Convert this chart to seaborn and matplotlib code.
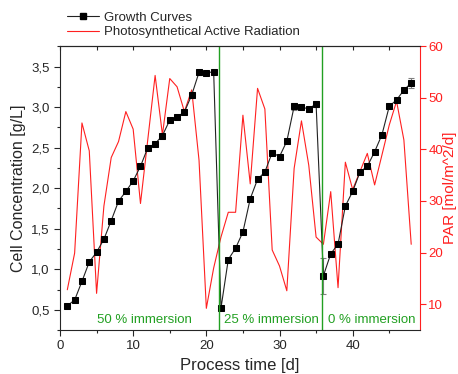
"""Growth curves and PAR over process time, three immersion phases."""

import matplotlib.pyplot as plt
from matplotlib.lines import Line2D
from matplotlib.ticker import FuncFormatter, MultipleLocator
import seaborn as sns


# growth curve (cell concentration, g/L)
growth_days = [1, 2, 3, 4, 5, 6, 7, 8, 9, 10, 11, 12, 13, 14, 15, 16, 17, 18, 19, 20, 21,
               22, 23, 24, 25, 26, 27, 28, 29, 30, 31, 32, 33, 34, 35,
               36, 37, 38, 39, 40, 41, 42, 43, 44, 45, 46, 47, 48]
growth_conc = [0.55, 0.62, 0.85, 1.09, 1.21, 1.37, 1.60, 1.84, 1.96, 2.09, 2.27, 2.50, 2.55, 2.65,
               2.84, 2.88, 2.94, 3.15, 3.43, 3.42, 3.44,
               0.52, 1.12, 1.26, 1.46, 1.87, 2.11, 2.20, 2.44, 2.39, 2.58, 3.01, 3.00, 2.98, 3.04,
               0.92, 1.19, 1.31, 1.78, 1.96, 2.20, 2.27, 2.45, 2.66, 3.01, 3.09, 3.21, 3.30]
growth_err = [0.01, 0.01, 0.01, 0.01, 0.01, 0.01, 0.01, 0.01, 0.01, 0.01, 0.01, 0.01, 0.01, 0.01,
              0.01, 0.01, 0.02, 0.04, 0.03, 0.01, 0.02,
              0.01, 0.01, 0.01, 0.01, 0.01, 0.01, 0.01, 0.03, 0.01, 0.01, 0.04, 0.01, 0.01, 0.04,
              0.22, 0.01, 0.01, 0.01, 0.01, 0.01, 0.01, 0.01, 0.01, 0.01, 0.01, 0.02, 0.06]

# photosynthetical active radiation (mol/m^2/d)
par_days = [1, 2, 3, 4, 5, 6, 7, 8, 9, 10, 11, 13, 14, 15, 16, 17, 18, 19, 20, 21, 22,
            23, 24, 25, 26, 27, 28, 29, 30, 31, 32, 33, 34, 35, 36,
            37, 38, 39, 40, 42, 43, 45, 46, 47, 48]
par_values = [12.8, 19.9, 45.1, 39.7, 12.1, 29.0, 38.4, 41.5, 47.3, 43.9, 29.5, 54.3, 42.8, 53.7,
              52.1, 47.3, 51.5, 37.9, 9.2, 17.0, 23.0,
              27.8, 27.8, 46.6, 33.3, 51.8, 47.8, 20.5, 17.4, 12.6, 36.3, 45.5, 36.9, 23.0, 21.6,
              31.8, 13.2, 37.5, 32.2, 39.2, 33.1, 44.7, 49.3, 41.8, 21.6]

phase_changes = [21.7, 35.8]
phase_labels = ["50 % immersion", "25 % immersion", "0 % immersion"]
phase_label_x = [11.5, 28.9, 42.6]

RED = "#ff2020"
GREEN = "#22a022"


def comma(value, _pos):
    return f"{value:.1f}".replace(".", ",")


def main() -> None:
    sns.set_style("ticks")
    plt.rcParams["font.family"] = ["Liberation Sans", "DejaVu Sans"]

    fig = plt.figure(figsize=(4.58, 3.74), dpi=100)
    ax = fig.add_axes([0.131, 0.1176, 0.786, 0.7594])
    ax2 = ax.twinx()

    # red PAR line on the right axis
    sns.lineplot(x=par_days, y=par_values, ax=ax2, color=RED, linewidth=0.8)
    ax2.set_ylim(5, 60)
    ax2.yaxis.set_major_locator(MultipleLocator(10))
    ax2.set_ylabel("PAR [mol/m^2/d]", color=RED, fontsize=11, labelpad=0)
    ax2.tick_params(axis="y", colors=RED, labelsize=9.5, direction="out", length=4, pad=2)
    ax2.spines["right"].set_color(RED)
    for side in ["left", "top", "bottom"]:
        ax2.spines[side].set_visible(False)

    # growth curve on the left axis, drawn above the PAR line
    ax.set_zorder(ax2.get_zorder() + 1)
    ax.patch.set_visible(False)
    ax.errorbar(growth_days, growth_conc, yerr=growth_err, fmt="none",
                ecolor="#808080", elinewidth=0.8, capsize=2.5, capthick=0.8)
    sns.lineplot(x=growth_days, y=growth_conc, ax=ax, color="#222222", linewidth=0.8,
                 marker="s", markersize=4.5, markerfacecolor="black", markeredgecolor="black")

    for x in phase_changes:
        ax.axvline(x, color=GREEN, linewidth=1.0)
    for x, label in zip(phase_label_x, phase_labels):
        ax.text(x, 0.30, label, color=GREEN, fontsize=9.5, ha="center", va="bottom")

    ax.set_xlim(0, 49.2)
    ax.set_ylim(0.25, 3.755)
    ax.xaxis.set_major_locator(MultipleLocator(10))
    ax.xaxis.set_minor_locator(MultipleLocator(5))
    ax.yaxis.set_major_locator(MultipleLocator(0.5))
    ax.yaxis.set_minor_locator(MultipleLocator(0.25))
    ax.yaxis.set_major_formatter(FuncFormatter(comma))
    ax.tick_params(axis="both", which="major", labelsize=9.5, length=4, width=0.8, direction="out")
    ax.tick_params(axis="both", which="minor", length=2.5, width=0.8, direction="out")
    ax.set_xlabel("Process time [d]", fontsize=12)
    ax.set_ylabel("Cell Concentration [g/L]", fontsize=11.5)
    for spine in ax.spines.values():
        spine.set_linewidth(0.8)
    ax.spines["right"].set_visible(False)

    top = ax.secondary_xaxis("top")
    top.xaxis.set_major_locator(MultipleLocator(5))
    top.tick_params(direction="in", length=3, width=0.8, labeltop=False)

    handles = [
        Line2D([], [], color="#222222", linewidth=0.8, marker="s", markersize=4.5,
               markerfacecolor="black", markeredgecolor="black"),
        Line2D([], [], color=RED, linewidth=0.8),
    ]
    fig.legend(handles, ["Growth Curves", "Photosynthetical Active Radiation"],
               loc="upper left", bbox_to_anchor=(0.12, 1.0), frameon=False,
               fontsize=9.5, handlelength=2.4, handletextpad=0.4, labelspacing=0.15)

    fig.savefig("out.png", dpi=100)
    plt.close(fig)


if __name__ == "__main__":
    main()
